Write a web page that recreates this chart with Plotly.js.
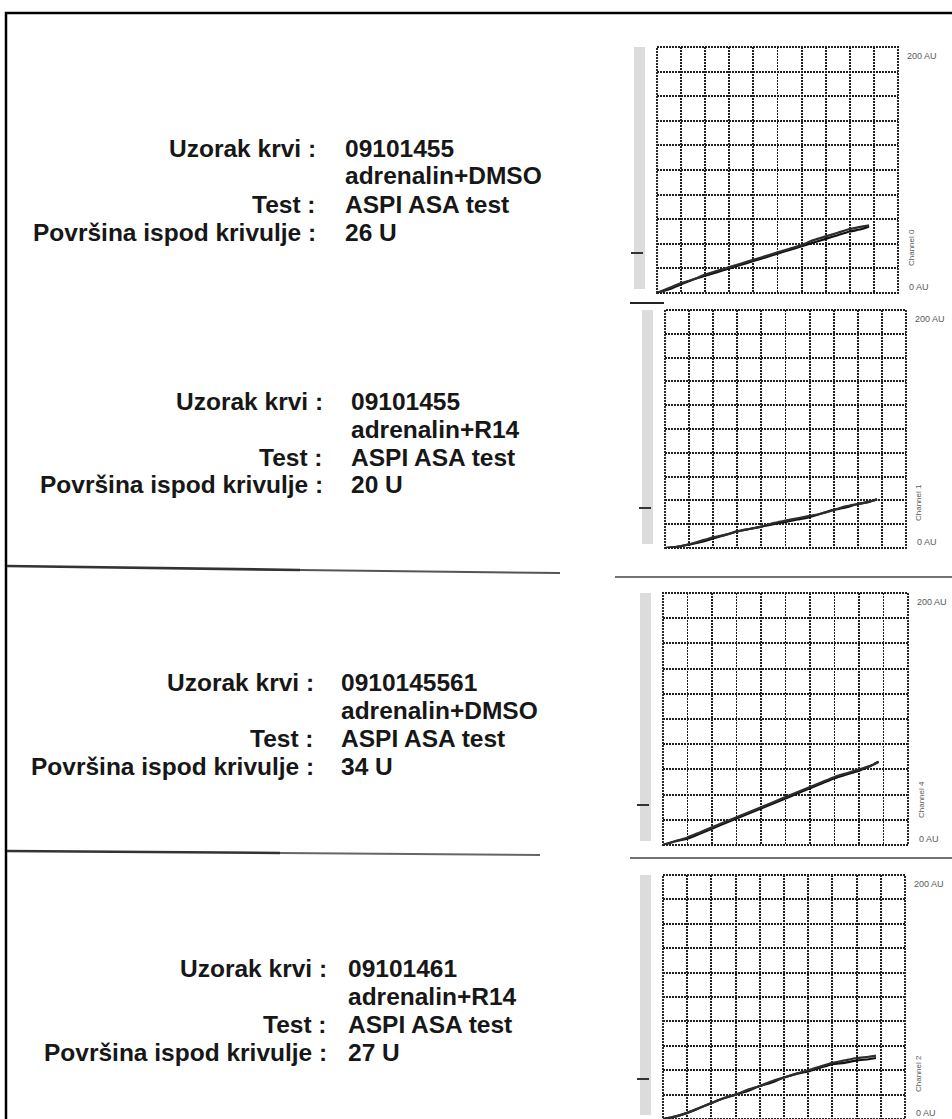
<!DOCTYPE html>
<html>
<head>
<meta charset="utf-8">
<script src="https://cdn.plot.ly/plotly-3.0.1.min.js"></script>
<style>
  html, body { margin: 0; padding: 0; background: #ffffff; }
  #chart { width: 952px; height: 1119px; }
</style>
</head>
<body>
<div id="chart"></div>
<script>
// Sample records (one per aggregometer channel)
const sampleIds = ['09101455', '09101455', '0910145561', '09101461'];
const reagents = ['adrenalin+DMSO', 'adrenalin+R14', 'adrenalin+DMSO', 'adrenalin+R14'];
const testNames = ['ASPI ASA test', 'ASPI ASA test', 'ASPI ASA test', 'ASPI ASA test'];
const aucUnits = [26, 20, 34, 27];
const channelNames = ['Channel 0', 'Channel 1', 'Channel 4', 'Channel 2'];
const scaleTop = '200 AU';
const scaleBottom = '0 AU';

// Time in chart divisions, aggregation in AU (two overlaid recordings per channel)
const timeDiv = [0, 0.5, 1, 1.5, 2, 2.5, 3, 3.5, 4, 4.5, 5, 5.5, 6, 6.5, 7, 7.5, 8, 8.5, 8.8];
const ch0a = [0, 3, 7, 11, 14, 17, 20, 23, 26, 29, 32, 35, 38, 41, 44, 47, 50, 52, 54];
const ch0b = [0, 4, 8, 11, 15, 18, 21, 24, 27, 30, 33, 36, 39, 43, 46, 49, 52, 54, 55];
const ch1a = [0, 1, 3, 5, 8, 11, 14, 16, 18, 20, 22, 24, 26, 29, 32, 34, 37, 39, 41];
const ch1b = [0, 1, 3, 6, 9, 11, 14, 16, 18, 21, 23, 25, 27, 29, 32, 35, 37, 39, 41];
const ch4a = [0, 3, 5, 9, 13, 17, 21, 25, 29, 33, 37, 41, 45, 49, 53, 56, 59, 63, 66];
const ch4b = [0, 3, 6, 10, 14, 18, 22, 26, 30, 34, 38, 42, 46, 50, 54, 57, 60, 63, 66];
const ch2a = [0, 2, 5, 9, 13, 17, 20, 23, 27, 30, 34, 37, 39, 42, 45, 46, 48, 49, 50];
const ch2b = [0, 2, 5, 9, 13, 17, 20, 24, 27, 31, 34, 37, 40, 43, 46, 48, 50, 51, 52];
const curves = [[ch0a, ch0b], [ch1a, ch1b], [ch4a, ch4b], [ch2a, ch2b]];

// Page geometry (pixels) -> paper coordinates
const W = 952, H = 1119;
const px = v => v / W;
const py = v => 1 - v / H;

// Grid box of each panel: [left, right, top, bottom] in pixels
const boxes = [
  [657, 898, 47, 293],
  [665, 906, 310, 548],
  [663, 908, 593, 845],
  [663, 905, 875, 1119]
];
// Text block of each panel: first line y, colon x, value x
const textBlocks = [
  {y: 148, colon: 318, value: 343},
  {y: 401, colon: 325, value: 349},
  {y: 682, colon: 316, value: 339},
  {y: 968, colon: 329, value: 346}
];
const lineGap = 28;

const font = {family: 'Liberation Sans, Arial, sans-serif', size: 24.5, color: '#171717', weight: 700};
const smallFont = {family: 'Liberation Sans, Arial, sans-serif', size: 9, color: '#5a5a5a'};

const data = [];
const layout = {
  width: W, height: H,
  margin: {l: 0, r: 0, t: 0, b: 0},
  paper_bgcolor: '#ffffff',
  plot_bgcolor: '#ffffff',
  showlegend: false,
  annotations: [],
  shapes: []
};

const gridDash = '2px,1px';
const gridColor = '#202020';
const gridWidth = 1.9;

boxes.forEach((b, i) => {
  const n = i === 0 ? '' : String(i + 1);
  const xa = 'xaxis' + n, ya = 'yaxis' + n;
  const xr = 'x' + n, yr = 'y' + n;
  layout[xa] = {
    domain: [px(b[0]), px(b[1])], range: [0, 10], anchor: yr,
    tickmode: 'linear', tick0: 0, dtick: 1,
    showticklabels: false, ticks: '', zeroline: false, showline: false,
    showgrid: true, gridcolor: gridColor, gridwidth: gridWidth, griddash: gridDash,
    fixedrange: true
  };
  layout[ya] = {
    domain: [py(b[3]), py(b[2])], range: [0, 200], anchor: xr,
    tickmode: 'linear', tick0: 0, dtick: 20,
    showticklabels: false, ticks: '', zeroline: false, showline: false,
    showgrid: true, gridcolor: gridColor, gridwidth: gridWidth, griddash: gridDash,
    fixedrange: true
  };

  // dotted frame round the grid
  layout.shapes.push({
    type: 'rect', xref: xr + ' domain', yref: yr + ' domain',
    x0: 0, x1: 1, y0: 0, y1: 1,
    line: {color: gridColor, width: gridWidth, dash: gridDash}
  });

  // recorded curves
  curves[i].forEach((ys, k) => {
    data.push({
      type: 'scatter', mode: 'lines', x: timeDiv, y: ys,
      xaxis: xr, yaxis: yr, hoverinfo: 'skip',
      line: {color: k === 0 ? '#111' : '#2d2d2d', width: 2.2, shape: 'spline', smoothing: 0.6},
      cliponaxis: true
    });
  });

  // scale labels on the right
  layout.annotations.push({
    xref: 'paper', yref: 'paper', x: px(b[1] + 7), y: py(b[2] + 9),
    xanchor: 'left', yanchor: 'middle', showarrow: false,
    text: scaleTop, font: smallFont
  });
  layout.annotations.push({
    xref: 'paper', yref: 'paper', x: px(b[1] + 9), y: py(b[3] - 6),
    xanchor: 'left', yanchor: 'middle', showarrow: false,
    text: scaleBottom, font: smallFont
  });
  layout.annotations.push({
    xref: 'paper', yref: 'paper', x: px(b[1] + 13), y: py(b[3] - 45),
    xanchor: 'center', yanchor: 'middle', showarrow: false, textangle: -90,
    text: channelNames[i], font: {family: smallFont.family, size: 8, color: '#5a5a5a'}
  });

  // grey marker strip at the left of each grid, with its short tick
  layout.shapes.push({
    type: 'rect', xref: 'paper', yref: 'paper',
    x0: px(b[0] - 23), x1: px(b[0] - 12), y0: py(b[3] - 4), y1: py(b[2]),
    fillcolor: '#dcdcdc', line: {width: 0}, layer: 'below'
  });
  layout.shapes.push({
    type: 'line', xref: 'paper', yref: 'paper',
    x0: px(b[0] - 26), x1: px(b[0] - 14), y0: py(b[3] - 40), y1: py(b[3] - 40),
    line: {color: '#333', width: 2}
  });

  // text block
  const t = textBlocks[i];
  const lbl = (txt, row) => ({
    xref: 'paper', yref: 'paper', x: px(t.colon), y: py(t.y + row * lineGap),
    xanchor: 'right', yanchor: 'middle', showarrow: false, text: txt, font: font
  });
  const val = (txt, row) => ({
    xref: 'paper', yref: 'paper', x: px(t.value), y: py(t.y + row * lineGap),
    xanchor: 'left', yanchor: 'middle', showarrow: false, text: txt, font: font
  });
  layout.annotations.push(lbl('Uzorak krvi :', 0));
  layout.annotations.push(val(sampleIds[i], 0));
  layout.annotations.push(val(reagents[i], 1));
  layout.annotations.push(lbl('Test :', 2));
  layout.annotations.push(val(testNames[i], 2));
  layout.annotations.push(lbl('Površina ispod krivulje :', 3));
  layout.annotations.push(val(aucUnits[i] + ' U', 3));
});

// page border
layout.shapes.push({
  type: 'rect', xref: 'paper', yref: 'paper',
  x0: px(6), x1: px(960), y0: py(1130), y1: py(13),
  line: {color: '#000', width: 2.5}
});

// separator rules between the records
const rule = (x0, y0, x1, y1, w, c) => ({
  type: 'line', xref: 'paper', yref: 'paper',
  x0: px(x0), y0: py(y0), x1: px(x1), y1: py(y1),
  line: {color: c, width: w}
});
layout.shapes.push(rule(630, 303, 664, 303, 1.8, '#222'));
layout.shapes.push(rule(7, 566, 300, 570, 2.6, '#333'));
layout.shapes.push(rule(300, 570, 560, 573, 2, '#555'));
layout.shapes.push(rule(615, 577, 952, 577, 1.6, '#444'));
layout.shapes.push(rule(7, 851, 280, 853, 2.6, '#333'));
layout.shapes.push(rule(280, 853, 540, 855, 1.8, '#666'));
layout.shapes.push(rule(630, 858, 952, 858, 1.6, '#444'));

Plotly.newPlot('chart', data, layout, {displayModeBar: false, staticPlot: true});
</script>
</body>
</html>
